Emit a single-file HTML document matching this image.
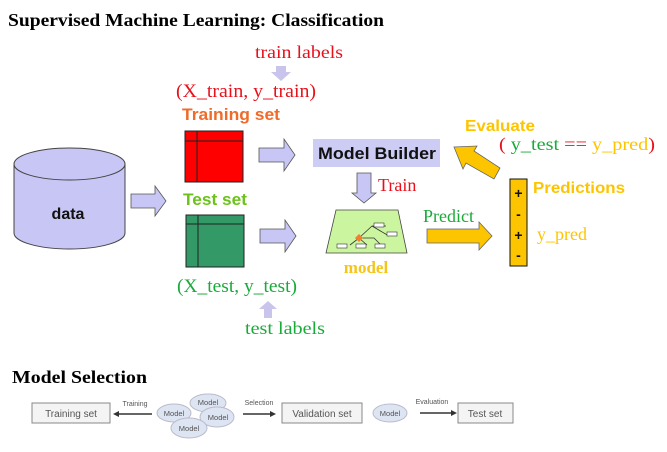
<!DOCTYPE html>
<html><head><meta charset="utf-8"><style>
html,body{margin:0;padding:0;background:#fff;}
svg{display:block;}
.s{font-family:"Liberation Serif",serif;}
.a{font-family:"Liberation Sans",sans-serif;font-weight:bold;}
</style></head><body>
<svg width="667" height="452" viewBox="0 0 667 452" xmlns="http://www.w3.org/2000/svg">
<text x="8" y="26" class="s" font-weight="bold" font-size="18" fill="#000" textLength="376" lengthAdjust="spacingAndGlyphs">Supervised Machine Learning: Classification</text>
<text x="255" y="58" class="s" font-size="18" fill="#e8101a" textLength="88" lengthAdjust="spacingAndGlyphs">train labels</text>
<path d="M276 66h10v6h5l-10 9l-10-9h5z" fill="#c8c4ec"/>
<text x="176" y="97" class="s" font-size="19" fill="#e8101a" textLength="140" lengthAdjust="spacingAndGlyphs">(X_train, y_train)</text>
<text x="182" y="120" class="a" font-size="16.5" fill="#f06a2a" textLength="98" lengthAdjust="spacingAndGlyphs">Training set</text>
<rect x="185" y="131" width="58" height="51" fill="#f00" stroke="#222" stroke-width="1"/>
<path d="M197 131v51M185 141h58" stroke="#222" stroke-width="1"/>
<text x="183" y="205" class="a" font-size="16.5" fill="#6cc21c" textLength="64" lengthAdjust="spacingAndGlyphs">Test set</text>
<rect x="186" y="215" width="58" height="52" fill="#339966" stroke="#222" stroke-width="1"/>
<path d="M198 215v52M186 224h58" stroke="#222" stroke-width="1"/>
<path d="M14 164v69a55.5 16 0 0 0 111 0v-69" fill="#c8c6f4" stroke="#444" stroke-width="1"/>
<ellipse cx="69.5" cy="164" rx="55.5" ry="16" fill="#c8c6f4" stroke="#444" stroke-width="1"/>
<text x="68" y="219" class="a" font-size="16" fill="#111" text-anchor="middle">data</text>
<path d="M131 194h24v-8l11 15l-11 15v-8h-24z" fill="#c8c6f4" stroke="#555" stroke-width="0.8"/>
<path d="M259 148h25v-9l11 16l-11 16v-9h-25z" fill="#c8c6f4" stroke="#555" stroke-width="0.8"/>
<path d="M260 229h25v-9l11 16l-11 16v-9h-25z" fill="#c8c6f4" stroke="#555" stroke-width="0.8"/>
<rect x="313" y="139" width="127" height="28" fill="#ccccf5"/>
<text x="318" y="159" class="a" font-size="17" fill="#111" textLength="118" lengthAdjust="spacingAndGlyphs">Model Builder</text>
<path d="M357 173h14v20h5l-12 10l-12-10h5z" fill="#c8c6f4" stroke="#555" stroke-width="0.8"/>
<text x="378" y="191" class="s" font-size="18" fill="#e8101a">Train</text>
<path d="M336 210h62l9 43h-81z" fill="#ccf5a0" stroke="#444" stroke-width="0.8"/>
<path d="M359 238l13-12l14 0M372 226l17 10M350 245l9-7l8 7M359 238h15l7 7" stroke="#333" stroke-width="0.8" fill="none"/>
<rect x="374" y="223" width="10" height="4" fill="#fff" stroke="#333" stroke-width="0.6"/>
<rect x="387" y="232" width="10" height="4" fill="#fff" stroke="#333" stroke-width="0.6"/>
<rect x="337" y="244" width="10" height="4" fill="#fff" stroke="#333" stroke-width="0.6"/>
<rect x="356" y="244" width="10" height="4" fill="#fff" stroke="#333" stroke-width="0.6"/>
<rect x="375" y="244" width="10" height="4" fill="#fff" stroke="#333" stroke-width="0.6"/>
<path d="M359 234l4 4l-4 4l-4-4z" fill="#f08030"/>
<text x="366" y="273" class="s" font-weight="bold" font-size="17" fill="#f5c518" text-anchor="middle">model</text>
<text x="423" y="222" class="s" font-size="18" fill="#1aaa3a">Predict</text>
<path d="M427 229h52v-7l13 14l-13 14v-7h-52z" fill="#fdc500" stroke="#666" stroke-width="0.8"/>
<rect x="510" y="179" width="17" height="87" fill="#fdc500" stroke="#111" stroke-width="1"/>
<g class="a" font-size="14" fill="#111" text-anchor="middle"><text x="518.5" y="198">+</text><text x="518.5" y="219">-</text><text x="518.5" y="240">+</text><text x="518.5" y="260">-</text></g>
<text x="533" y="193" class="a" font-size="16" fill="#fdc500" textLength="92" lengthAdjust="spacingAndGlyphs">Predictions</text>
<text x="537" y="240" class="s" font-size="18" fill="#fdc500">y_pred</text>
<text x="465" y="131" class="a" font-size="16" fill="#fdc500" textLength="70" lengthAdjust="spacingAndGlyphs">Evaluate</text>
<text x="499" y="150" class="s" font-size="18" textLength="156" lengthAdjust="spacingAndGlyphs"><tspan fill="#e8101a">(</tspan><tspan fill="#1aaa3a"> y_test </tspan><tspan fill="#e8101a">== </tspan><tspan fill="#fdc500">y_pred</tspan><tspan fill="#e8101a">)</tspan></text>
<path d="M500 168l-6 11l-28-16l-3 6l-9-22l23-1l-3 5z" fill="#fdc500" stroke="#666" stroke-width="0.8"/>
<text x="177" y="292" class="s" font-size="19" fill="#1aaa3a" textLength="120" lengthAdjust="spacingAndGlyphs">(X_test, y_test)</text>
<path d="M268 301l9 8h-5v9h-8v-9h-5z" fill="#c8c4ec"/>
<text x="245" y="334" class="s" font-size="18" fill="#1aaa3a" textLength="80" lengthAdjust="spacingAndGlyphs">test labels</text>
<text x="12" y="383" class="s" font-weight="bold" font-size="18" fill="#000" textLength="135" lengthAdjust="spacingAndGlyphs">Model Selection</text>
<g font-family="Liberation Sans,sans-serif" fill="#555">
<rect x="32" y="403" width="78" height="20" fill="#f4f4f4" stroke="#888"/>
<text x="71" y="417" font-size="10" text-anchor="middle">Training set</text>
<path d="M152 414h-36" stroke="#333" stroke-width="1.5"/><path d="M113 414l6-3v6z" fill="#333"/>
<text x="135" y="406" font-size="7" text-anchor="middle">Training</text>
<g fill="#dde4f2" stroke="#bbc"><ellipse cx="174" cy="413" rx="17" ry="9"/><ellipse cx="208" cy="403" rx="18" ry="9"/><ellipse cx="217" cy="417" rx="17" ry="10"/><ellipse cx="189" cy="428" rx="18" ry="10"/></g>
<g font-size="7.5" text-anchor="middle"><text x="174" y="416">Model</text><text x="208" y="405">Model</text><text x="218" y="420">Model</text><text x="189" y="431">Model</text></g>
<path d="M243 414h29" stroke="#333" stroke-width="1.5"/><path d="M276 414l-6-3v6z" fill="#333"/>
<text x="259" y="405" font-size="7" text-anchor="middle">Selection</text>
<rect x="282" y="403" width="80" height="20" fill="#f4f4f4" stroke="#888"/>
<text x="322" y="417" font-size="10" text-anchor="middle">Validation set</text>
<ellipse cx="390" cy="413" rx="17" ry="9" fill="#dde4f2" stroke="#bbc"/>
<text x="390" y="416" font-size="7.5" text-anchor="middle">Model</text>
<path d="M420 413h33" stroke="#333" stroke-width="1.5"/><path d="M457 413l-6-3v6z" fill="#333"/>
<text x="432" y="404" font-size="7" text-anchor="middle">Evaluation</text>
<rect x="458" y="403" width="55" height="20" fill="#f4f4f4" stroke="#888"/>
<text x="485" y="417" font-size="10" text-anchor="middle">Test set</text>
</g>
</svg>
</body></html>
